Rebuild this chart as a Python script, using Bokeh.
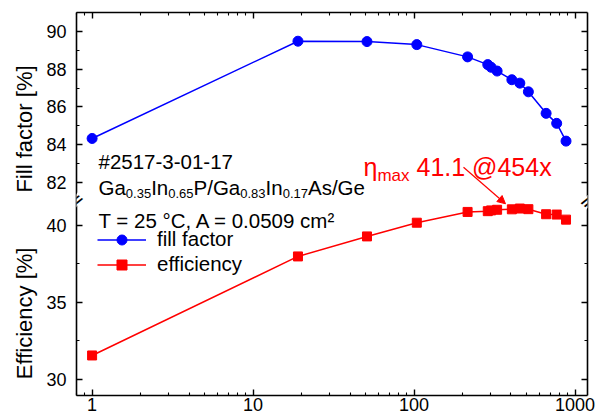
import math
from bokeh.plotting import figure
from bokeh.models import (Range1d, LinearAxis, LogAxis, FixedTicker, Label, Arrow,
                          NormalHead)
from bokeh.embed import file_html
from bokeh.resources import INLINE

# ---------------- data ----------------
concentration = [1, 19, 51, 104, 215, 287, 301, 328, 405, 454, 513, 661, 769, 879]
fill_factor = [84.33, 89.48, 89.46, 89.30, 88.65, 88.24, 88.10, 87.90, 87.44, 87.26,
               86.80, 85.66, 85.13, 84.19]
efficiency = [31.56, 37.99, 39.29, 40.18, 40.88, 40.93, 40.98, 41.02, 41.05, 41.10,
              41.06, 40.73, 40.71, 40.38]
x_ticks = [1, 10, 100, 1000]
x_tick_labels = ["1", "10", "100", "1000"]
ff_ticks = [82, 84, 86, 88, 90]
ff_minor = [83, 85, 87, 89]
eff_ticks = [30, 35, 40]
eff_minor = [32.5, 37.5]
ff_title = "Fill factor [%]"
eff_title = "Efficiency [%]"
info_line1 = "#2517-3-01-17"
info_line3 = "T = 25 °C, A = 0.0509 cm²"
composition = [("Ga", False), ("0.35", True), ("In", False), ("0.65", True),
               ("P/Ga", False), ("0.83", True), ("In", False), ("0.17", True),
               ("As/Ge", False)]
eta_max = "41.1"
eta_conc = "454"

FONT = "Liberation Sans"

# ranges: efficiency on the main y range, fill factor on an extra one
EFF_LO, EFF_HI = 28.96, 53.83
FF_LO, FF_HI = 70.72, 91.0

def ff_pos(v):
    return round(EFF_LO + (v - FF_LO) * (EFF_HI - EFF_LO) / (FF_HI - FF_LO), 6)

p = figure(width=605, height=419, x_axis_type="log",
           x_range=Range1d(0.80, 1195), y_range=Range1d(EFF_LO, EFF_HI),
           output_backend="svg", toolbar_location=None,
           min_border_left=76, min_border_right=18, min_border_top=12,
           min_border_bottom=24)
p.extra_y_ranges = {"ff": Range1d(FF_LO, FF_HI)}
p.outline_line_color = None
p.xgrid.visible = False
p.ygrid.visible = False
p.background_fill_color = "white"
p.border_fill_color = "white"

# y ticker combining both panels
y_major = [float(t) for t in eff_ticks] + [ff_pos(v) for v in ff_ticks]
y_minor = [float(t) for t in eff_ticks + eff_minor] + [ff_pos(v) for v in ff_ticks + ff_minor]
y_labels = {float(t): str(t) for t in eff_ticks}
y_labels.update({ff_pos(v): str(v) for v in ff_ticks})

x_minor = [0.8, 0.9] + [m * d for d in (1, 10, 100) for m in range(2, 10)]

def style(ax, show_labels=True, standoff=5):
    ax.axis_line_width = 1.6
    ax.axis_line_color = "black"
    ax.major_tick_in = 6
    ax.major_tick_out = 0
    ax.minor_tick_in = 3
    ax.minor_tick_out = 0
    ax.major_tick_line_width = 1.4
    ax.minor_tick_line_width = 1.1
    ax.major_tick_line_color = "black"
    ax.minor_tick_line_color = "black"
    ax.major_label_text_font = FONT
    ax.major_label_text_color = "black"
    if show_labels:
        ax.major_label_text_font_size = "18px"
        ax.major_label_standoff = standoff
    else:
        ax.major_label_text_font_size = "1px"
        ax.major_label_text_alpha = 0
        ax.major_label_standoff = 0

left = p.yaxis[0]
left.ticker = FixedTicker(ticks=y_major, minor_ticks=y_minor)
left.major_label_overrides = y_labels
style(left, True, 10)
# both panel titles in one rotated axis label (read bottom to top),
# separated / padded by no-break spaces so each sits beside its own panel
NBSP = "\u00a0"
left.axis_label = eff_title + NBSP * 9 + ff_title + NBSP * 6
left.axis_label_text_font = FONT
left.axis_label_text_font_size = "22px"
left.axis_label_text_font_style = "normal"
left.axis_label_text_color = "black"
left.axis_label_standoff = 6

bottom = p.xaxis[0]
bottom.ticker = FixedTicker(ticks=x_ticks, minor_ticks=x_minor)
bottom.major_label_overrides = dict(zip(x_ticks, x_tick_labels))
style(bottom, True, 2)

right = LinearAxis(ticker=FixedTicker(ticks=y_major, minor_ticks=y_minor))
style(right, False)
p.add_layout(right, "right")

top = LogAxis(ticker=FixedTicker(ticks=x_ticks, minor_ticks=x_minor))
style(top, False)
p.add_layout(top, "above")

# ---------------- data glyphs ----------------
BLUE, RED = "#0000ff", "#ff0000"
p.line(concentration, fill_factor, y_range_name="ff", line_color=BLUE, line_width=1.5,
       legend_label="fill factor")
p.scatter(concentration, fill_factor, y_range_name="ff", marker="circle", size=10,
          fill_color=BLUE, line_color=BLUE, legend_label="fill factor")
p.line(concentration, efficiency, line_color=RED, line_width=1.5, legend_label="efficiency")
p.scatter(concentration, efficiency, marker="square", size=9, fill_color=RED,
          line_color=RED, legend_label="efficiency")

lg = p.legend[0]
lg.location = (21, 118.5)
lg.glyph_width = 49
lg.glyph_height = 25
lg.label_height = 25
lg.spacing = 0
lg.padding = 0
lg.margin = 0
lg.label_standoff = 11
lg.label_text_font = FONT
lg.label_text_font_size = "20.5px"
lg.label_text_color = "black"
lg.border_line_color = None
lg.background_fill_alpha = 0

# ---------------- texts ----------------
FX, FY = 76, 395  # frame left / bottom in canvas pixels

def add_text(cx, cy, text, size, color="black", align="left", baseline="alphabetic",
             angle=0.0):
    p.add_layout(Label(x=cx - FX, y=FY - cy, x_units="screen", y_units="screen",
                       text=text, text_font=FONT, text_font_size=f"{size}px",
                       text_color=color, text_align=align, text_baseline=baseline,
                       angle=angle))

WIDTH = {'G': 778, 'a': 556, 'I': 278, 'n': 556, 'P': 667, '/': 278, 'A': 667, 's': 500,
         'e': 556, '.': 278, 'm': 833, 'x': 500, 'η': 557, ' ': 278}
for d in "0123456789":
    WIDTH[d] = 556

def text_width(s, size):
    return sum(WIDTH.get(c, 556) for c in s) * size / 1000.0

add_text(98, 160.7, info_line1, 20.5)
cx = 98.0
for seg, is_sub in composition:
    size = 13 if is_sub else 20.5
    add_text(cx, 192.5 if is_sub else 186.5, seg, size)
    cx += text_width(seg, size)
add_text(98, 220, info_line3, 20.5)

# eta_max annotation
ex = 363.0
add_text(ex, 166, "η", 25, color=RED)
ex += text_width("η", 25)
add_text(ex, 175, "max", 17, color=RED)
ex += text_width("max", 17) + text_width(" ", 25)
add_text(ex, 166, f"{eta_max} @{eta_conc}x", 25, color=RED)

p.add_layout(Arrow(x_start=463 - FX, y_start=FY - 166.7, start_units="screen",
                   x_end=505 - FX, y_end=FY - 203.3, end_units="screen",
                   line_color=RED, line_width=1.2,
                   end=NormalHead(size=8, fill_color=RED, line_color=RED)))

# axis break marks
for bx, by in ((76, 200), (587, 201)):
    p.add_layout(Label(x=bx - FX, y=FY - by, x_units="screen", y_units="screen",
                       text="//", text_font=FONT, text_font_size="15px",
                       text_font_style="bold", text_color="black",
                       text_align="center", text_baseline="middle", angle=-0.7,
                       background_fill_color="white", background_fill_alpha=1.0))

open("out.html", "w").write(file_html(p, INLINE))
